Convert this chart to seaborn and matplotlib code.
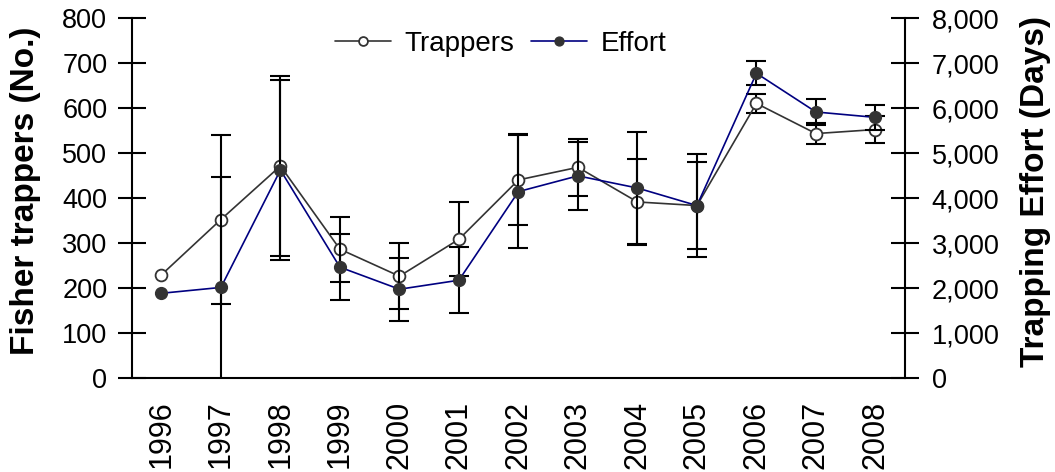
import numpy as np
import matplotlib
matplotlib.use("Agg")
import matplotlib.pyplot as plt
from matplotlib.ticker import FuncFormatter, FixedLocator
import seaborn as sns

# Annual fisher trapping summary
years = [1996, 1997, 1998, 1999, 2000, 2001, 2002, 2003, 2004, 2005, 2006, 2007, 2008]
trappers = [230, 353, 472, 287, 227, 309, 441, 469, 392, 384, 611, 544, 553]
trappers_err = [np.nan, 187, 201, 72, 74, 82, 101, 64, 96, 97, 22, 23, 29]
effort_days = [1890, 2020, 4630, 2470, 1980, 2180, 4150, 4500, 4230, 3840, 6780, 5920, 5800]
effort_err = [np.nan, 2460, 2010, 730, 700, 735, 1260, 760, 1250, 1150, 270, 290, 270]

left_ticks = [0, 100, 200, 300, 400, 500, 600, 700, 800]
right_ticks = [0, 1000, 2000, 3000, 4000, 5000, 6000, 7000, 8000]

sns.set_style("white")
plt.rcParams["font.family"] = ["Liberation Sans", "DejaVu Sans"]
plt.rcParams["text.color"] = "black"
plt.rcParams["axes.labelcolor"] = "black"
plt.rcParams["xtick.color"] = "black"
plt.rcParams["ytick.color"] = "black"

fig = plt.figure(figsize=(10.55, 4.72), dpi=100)
ax = fig.add_subplot(111)
fig.subplots_adjust(left=0.1248, right=0.858, bottom=0.1985, top=0.961)
ax2 = ax.twinx()

dark = "#333333"
navy = "#000080"

# error bars sit underneath the series lines
ax.errorbar(years, trappers, yerr=trappers_err, fmt="none", ecolor="black",
            elinewidth=1.5, capsize=7, capthick=1.5, zorder=1)
ax2.errorbar(years, effort_days, yerr=effort_err, fmt="none", ecolor="black",
             elinewidth=1.5, capsize=7, capthick=1.5, zorder=1)

sns.lineplot(x=years, y=trappers, ax=ax, color=dark, linewidth=1.2,
             marker="o", markersize=8.5, markerfacecolor="white",
             markeredgecolor=dark, markeredgewidth=1.3, legend=False, zorder=3)
h_trap = ax.get_lines()[-1]
h_trap.set_label("Trappers")

sns.lineplot(x=years, y=effort_days, ax=ax2, color=navy, linewidth=1.2,
             marker="o", markersize=8.5, markerfacecolor=dark,
             markeredgecolor=dark, markeredgewidth=1.0, legend=False, zorder=3)
h_eff = ax2.get_lines()[-1]
h_eff.set_label("Effort")

ax.set_xlim(1995.5, 2008.5)
ax.set_ylim(0, 800)
ax2.set_ylim(0, 8000)

ax.set_yticks(left_ticks)
ax2.set_yticks(right_ticks)
ax2.yaxis.set_major_formatter(FuncFormatter(lambda v, p: f"{int(v):,}"))

# year labels at the centres, tick marks on the boundaries
ax.set_xticks(years)
ax.set_xticklabels([str(y) for y in years], rotation=90, fontsize=22)
ax.xaxis.set_minor_locator(FixedLocator([y - 0.5 for y in years] + [years[-1] + 0.5]))
ax.tick_params(axis="x", which="major", length=0, pad=16)
ax.tick_params(axis="x", which="minor", direction="inout", length=20, width=1.5, color="black")

ax.tick_params(axis="y", direction="inout", length=20, width=1.5, color="black",
               labelsize=19.5, pad=7.5, left=True)
ax2.tick_params(axis="y", direction="inout", length=20, width=1.5, color="black",
                labelsize=19.5, pad=9, right=True)

for a in (ax, ax2):
    a.spines["top"].set_visible(False)
    for s in a.spines.values():
        s.set_color("black")
        s.set_linewidth(1.5)
ax.spines["right"].set_visible(False)
ax2.spines["left"].set_visible(False)
ax2.spines["bottom"].set_visible(False)
ax.grid(False)
ax2.grid(False)

ax.set_ylabel("Fisher trappers (No.)", fontsize=24, fontweight="bold")
ax.yaxis.set_label_coords(-0.117, 0.52)
ax2.set_ylabel("Trapping Effort (Days)", fontsize=24, fontweight="bold",
               rotation=90)
ax2.yaxis.set_label_coords(1.148, 0.52)

fig.legend(handles=[h_trap, h_eff], loc="center", ncol=2, frameon=False,
           bbox_to_anchor=(501 / 1055, 1 - 44 / 472), fontsize=20,
           markerscale=0.75, handlelength=2.0, handletextpad=0.5,
           columnspacing=0.6)

fig.savefig("out.png", dpi=100)
